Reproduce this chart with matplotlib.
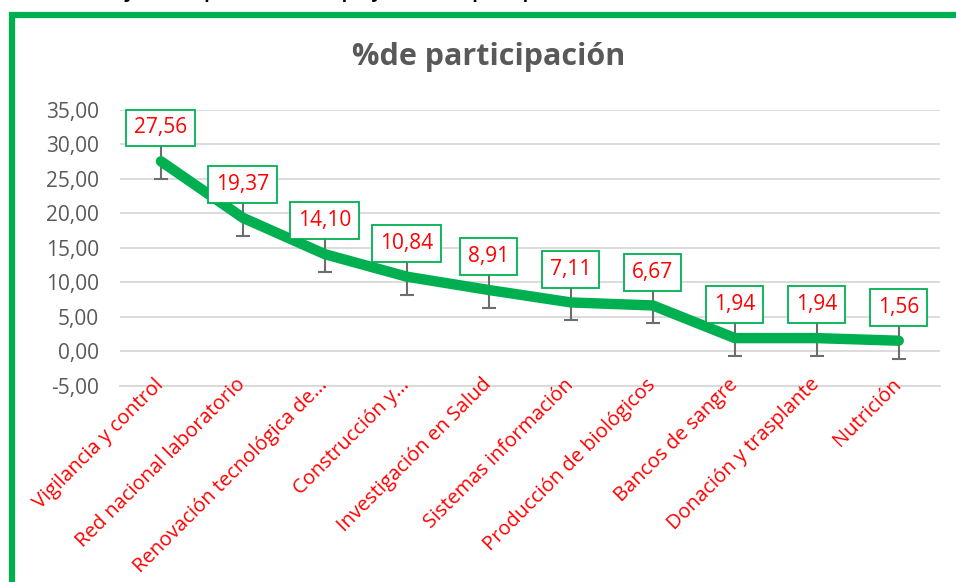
import numpy as np
import matplotlib.pyplot as plt
from matplotlib.patches import Rectangle

proyectos = ['Vigilancia y control', 'Red nacional laboratorio', 'Renovación tecnológica de...',
             'Construcción y...', 'Investigación en Salud', 'Sistemas información',
             'Producción de biológicos', 'Bancos de sangre', 'Donación y trasplante', 'Nutrición']
participacion = [27.56, 19.37, 14.10, 10.84, 8.91, 7.11, 6.67, 1.94, 1.94, 1.56]
error = 2.6
yticks = [-5, 0, 5, 10, 15, 20, 25, 30, 35]

plt.rcParams['font.family'] = ['Open Sans', 'DejaVu Sans']

fig = plt.figure(figsize=(9.56, 5.82), dpi=100)
ax = fig.add_axes([0.1255, 0.3368, 0.8575, 0.4742])

verde = '#00B050'
gris = '#595959'
x = np.arange(len(proyectos))

ax.errorbar(x, participacion, yerr=error, fmt='none', ecolor='#6d6d6d',
            elinewidth=1.5, capsize=5, capthick=1.5, zorder=2)
ax.plot(x, participacion, color=verde, lw=7.5, solid_capstyle='round',
        solid_joinstyle='round', zorder=3)

for xi, v in zip(x, participacion):
    ax.annotate(f'{v:.2f}'.replace('.', ','), (xi, v), xytext=(0, 24),
                textcoords='offset points', ha='center', va='center',
                color='red', fontsize=15,
                bbox=dict(boxstyle='square,pad=0.38', fc='white', ec=verde, lw=1.3),
                zorder=5)

for s in ['top', 'right', 'left']:
    ax.spines[s].set_visible(False)
ax.spines['bottom'].set_color('#d9d9d9')
ax.spines['bottom'].set_linewidth(1.3)
ax.spines['bottom'].set_position(('data', -5))

ax.set_xlim(-0.5, len(proyectos) - 0.5)
ax.set_ylim(-5, 35)
ax.set_yticks(yticks)
ax.set_yticklabels([f'{t:.2f}'.replace('.', ',') for t in yticks], color=gris, fontsize=15)
ax.set_xticks(x)
ax.set_xticklabels(proyectos, rotation=45, ha='right', va='center', rotation_mode='anchor',
                   color='red', fontsize=14.5)
ax.tick_params(axis='y', length=0, pad=15)
ax.tick_params(axis='x', length=0, pad=-3)
ax.grid(axis='y', color='#d9d9d9', lw=1.3)
ax.set_axisbelow(True)
# etiquetas del eje x por encima de la linea del eje
ax.spines['bottom'].set_zorder(0.3)
ax.xaxis.set_zorder(0.6)

fig.text(0.511, 0.902, '%de participación', ha='center', va='center',
         fontsize=22, fontweight='bold', color=gris)

# marco verde
fig.patches.append(Rectangle((12 / 956, -0.1), 1.1, (582 - 15) / 582 + 0.1,
                             transform=fig.transFigure, fill=False,
                             ec=verde, lw=4.5, zorder=10))

fig.text(-0.035, 1.012, 'Gráfica : Porcentaje Participación de cada proyecto en el presupuesto de inversión',
         ha='left', va='center', fontsize=13, fontweight='bold', color='black')

fig.savefig('out.png', dpi=100)
